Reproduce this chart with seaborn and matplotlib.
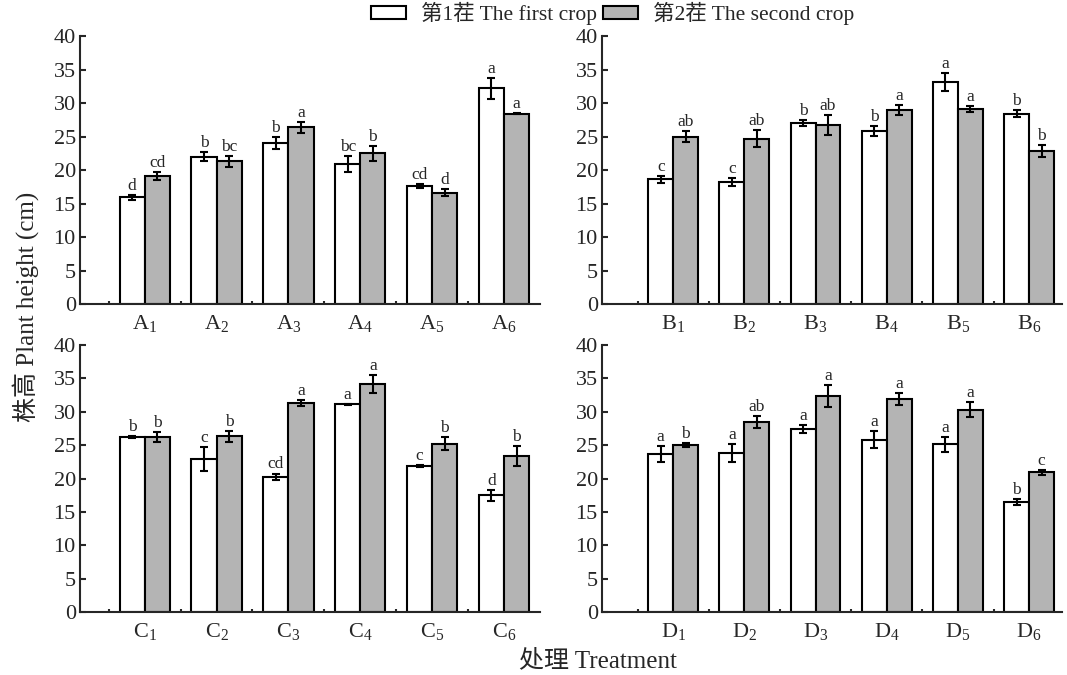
import numpy as np
import pandas as pd
import matplotlib
matplotlib.use("Agg")
import matplotlib.pyplot as plt
import seaborn as sns

# Plant height (cm), mean and error
a_first = [15.9, 22.0, 24.1, 20.9, 17.6, 32.2]
a_first_err = [0.4, 0.65, 0.9, 1.2, 0.35, 1.55]
a_first_sig = ["d", "b", "b", "bc", "cd", "a"]
a_second = [19.1, 21.3, 26.4, 22.5, 16.6, 28.4]
a_second_err = [0.6, 0.8, 0.8, 1.1, 0.5, 0.1]
a_second_sig = ["cd", "bc", "a", "b", "d", "a"]

b_first = [18.6, 18.2, 27.0, 25.8, 33.2, 28.4]
b_first_err = [0.55, 0.65, 0.4, 0.75, 1.35, 0.55]
b_first_sig = ["c", "c", "b", "b", "a", "b"]
b_second = [25.0, 24.7, 26.7, 28.9, 29.1, 22.9]
b_second_err = [0.85, 1.3, 1.5, 0.75, 0.4, 0.9]
b_second_sig = ["ab", "ab", "ab", "a", "a", "b"]

c_first = [26.2, 22.9, 20.25, 31.1, 21.9, 17.5]
c_first_err = [0.15, 1.75, 0.5, 0.1, 0.15, 0.85]
c_first_sig = ["b", "c", "cd", "a", "c", "d"]
c_second = [26.2, 26.3, 31.3, 34.2, 25.2, 23.3]
c_second_err = [0.8, 0.85, 0.5, 1.35, 0.95, 1.5]
c_second_sig = ["b", "b", "a", "a", "b", "b"]

d_first = [23.7, 23.8, 27.4, 25.8, 25.1, 16.5]
d_first_err = [1.2, 1.4, 0.6, 1.25, 1.1, 0.45]
d_first_sig = ["a", "a", "a", "a", "a", "b"]
d_second = [25.0, 28.5, 32.4, 31.9, 30.3, 20.9]
d_second_err = [0.3, 0.9, 1.65, 0.95, 1.1, 0.4]
d_second_sig = ["b", "ab", "a", "a", "a", "c"]

crops = ["第1茬 The first crop", "第2茬 The second crop"]

panels = {
    "A": (a_first, a_first_err, a_first_sig, a_second, a_second_err, a_second_sig),
    "B": (b_first, b_first_err, b_first_sig, b_second, b_second_err, b_second_sig),
    "C": (c_first, c_first_err, c_first_sig, c_second, c_second_err, c_second_sig),
    "D": (d_first, d_first_err, d_first_sig, d_second, d_second_err, d_second_sig),
}

sns.set_style("ticks")
plt.rcParams["font.family"] = ["Liberation Serif", "Noto Sans CJK SC"]
plt.rcParams["mathtext.fontset"] = "custom"
plt.rcParams["mathtext.rm"] = "Liberation Serif"
plt.rcParams["axes.linewidth"] = 1.5

fig = plt.figure(figsize=(10.67, 6.75), dpi=100)

boxes = {
    "A": [0.075, 0.5496, 0.431, 0.397],
    "B": [0.5642, 0.5496, 0.431, 0.397],
    "C": [0.075, 0.0933, 0.431, 0.3956],
    "D": [0.5642, 0.0933, 0.431, 0.3956],
}
xlims = {"A": (-0.9, 5.5), "B": (-1.0, 5.46), "C": (-0.9, 5.5), "D": (-1.0, 5.46)}

gray = "#b4b4b4"
axes = {}
for g, (f, fe, fs, s, se, ss) in panels.items():
    ax = fig.add_axes(boxes[g])
    axes[g] = ax
    treat = [f"{g}{i}" for i in range(1, 7)]
    df = pd.DataFrame({
        "treat": treat * 2,
        "crop": [crops[0]] * 6 + [crops[1]] * 6,
        "height": f + s,
    })
    sns.barplot(data=df, x="treat", y="height", hue="crop", palette=["white", gray],
                saturation=1, width=0.7, edgecolor="black", linewidth=1.5,
                errorbar=None, legend=False, ax=ax)

    for cont, errs, sigs in zip(ax.containers, [fe, se], [fs, ss]):
        for bar, e, lab in zip(cont, errs, sigs):
            x = bar.get_x() + bar.get_width() / 2
            h = bar.get_height()
            ax.errorbar(x, h, yerr=e, fmt="none", ecolor="black",
                        elinewidth=1.5, capsize=3, capthick=1.5)
            ax.text(x, h + e + 0.15, lab, ha="center", va="bottom", fontsize=12.5)

    ax.set_ylim(0, 40)
    ax.set_yticks(range(0, 41, 5))
    ax.set_xlim(*xlims[g])
    ax.set_xticks(range(6))
    ax.set_xticklabels([rf"$\mathrm{{{g}}}_{{{i}}}$" for i in range(1, 7)])
    ax.set_xticks(np.arange(-0.5, 5, 1), minor=True)
    ax.tick_params(axis="x", which="major", length=0, pad=7, labelsize=16)
    ax.tick_params(axis="x", which="minor", direction="in", length=2.5, width=1.5)
    ax.tick_params(axis="y", direction="in", length=4, width=1.5, pad=3, labelsize=16)
    ax.set_xlabel("")
    ax.set_ylabel("")
    sns.despine(ax=ax)

fig.legend(handles=[axes["A"].containers[0], axes["A"].containers[1]], labels=crops,
           loc="upper center", bbox_to_anchor=(0.574, 1.026), ncol=2, frameon=False,
           fontsize=15.5, handlelength=1.6, handleheight=0.6, columnspacing=0.3,
           handletextpad=0.7)

fig.text(0.024, 0.545, "株高 Plant height (cm)", rotation=90, ha="center", va="center",
         fontsize=18)
fig.text(0.56, 0.021, "处理 Treatment", ha="center", va="center", fontsize=18)

fig.savefig("out.png", dpi=100)
